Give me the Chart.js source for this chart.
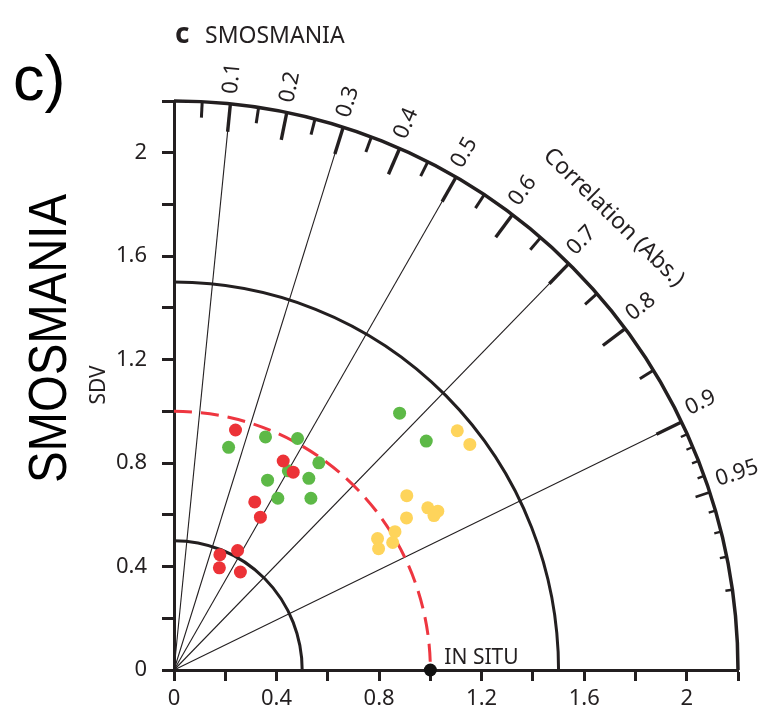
<!DOCTYPE html>
<html><head><meta charset="utf-8">
<script src="https://cdn.jsdelivr.net/npm/chart.js@4"></script>
<style>html,body{margin:0;padding:0;background:#fff;} #wrap{position:relative;width:768px;height:713px;}</style>
</head><body><div id="wrap"><canvas id="c" width="768" height="713"></canvas></div>
<script>
// ---- data ----
const xTickLabels = ['0', '0.4', '0.8', '1.2', '1.6', '2'];
const yTickLabels = ['0', '0.4', '0.8', '1.2', '1.6', '2'];
const corrLines = [0.1, 0.3, 0.5, 0.7, 0.9];
const corrMajor = [0.1, 0.2, 0.3, 0.4, 0.5, 0.6, 0.7, 0.8, 0.9];
const corrMinor = [0.05, 0.15, 0.25, 0.35, 0.45, 0.55, 0.65, 0.75, 0.85];
const corrMid = [0.95];
const corrFine = [0.91, 0.92, 0.93, 0.94, 0.96, 0.97, 0.98, 0.99];
const corrLabelValues = [0.1, 0.2, 0.3, 0.4, 0.5, 0.6, 0.7, 0.8, 0.9, 0.95];
const corrLabels = ['0.1', '0.2', '0.3', '0.4', '0.5', '0.6', '0.7', '0.8', '0.9', '0.95'];
const sdArcs = [0.5, 1.5];
const sdOuter = 2.2;
const sdRef = 1.0;
const redX = [0.240, 0.426, 0.465, 0.315, 0.337, 0.248, 0.179, 0.177, 0.259];
const redY = [0.928, 0.808, 0.765, 0.650, 0.591, 0.462, 0.446, 0.395, 0.379];
const greenX = [0.213, 0.357, 0.482, 0.565, 0.446, 0.365, 0.526, 0.405, 0.534, 0.880, 0.984];
const greenY = [0.861, 0.901, 0.895, 0.801, 0.770, 0.734, 0.741, 0.664, 0.664, 0.993, 0.885];
const yellowX = [1.105, 1.154, 0.908, 0.990, 1.029, 1.014, 0.907, 0.862, 0.853, 0.794, 0.798];
const yellowY = [0.925, 0.872, 0.674, 0.627, 0.614, 0.597, 0.588, 0.535, 0.493, 0.508, 0.469];
const inSituX = [1.0];
const inSituY = [0.0];

// ---- style ----
const TXT = '#231f20';
const FONT = '"Noto Sans", "DejaVu Sans", sans-serif';
const toPts = (xs, ys) => xs.map((v, i) => ({x: v, y: ys[i]}));

const taylorPlugin = {
  id: 'taylor',
  beforeDatasetsDraw(chart) {
    const {ctx, scales: {x, y}} = chart;
    const X = v => x.getPixelForValue(v), Y = v => y.getPixelForValue(v);
    const x0 = X(0), y0 = Y(0), kx = X(1) - x0, ky = y0 - Y(1);
    const pt = (r, th) => [X(r * Math.cos(th)), Y(r * Math.sin(th))];
    ctx.save();
    ctx.lineCap = 'butt';
    // radial correlation lines
    ctx.strokeStyle = TXT; ctx.lineWidth = 1.1;
    corrLines.forEach(c => {
      const p = pt(sdOuter, Math.acos(c));
      ctx.beginPath(); ctx.moveTo(x0, y0); ctx.lineTo(p[0], p[1]); ctx.stroke();
    });
    // SD arcs
    ctx.lineWidth = 3;
    sdArcs.forEach(r => {
      ctx.beginPath(); ctx.ellipse(x0, y0, r * kx, r * ky, 0, -Math.PI / 2, 0); ctx.stroke();
    });
    ctx.lineWidth = 3.5;
    ctx.beginPath(); ctx.ellipse(x0, y0, sdOuter * kx, sdOuter * ky, 0, -Math.PI / 2, 0); ctx.stroke();
    // reference SD arc (dashed red)
    ctx.save();
    ctx.strokeStyle = '#ee3640'; ctx.lineWidth = 3; ctx.setLineDash([18, 9]);
    ctx.beginPath(); ctx.ellipse(x0, y0, sdRef * kx, sdRef * ky, 0, -Math.PI / 2, 0); ctx.stroke();
    ctx.restore();
    // ticks on outer arc
    ctx.strokeStyle = TXT;
    const tick = (c, len, w) => {
      const [px, py] = pt(sdOuter, Math.acos(c));
      const dx = px - x0, dy = py - y0, d = Math.hypot(dx, dy);
      ctx.lineWidth = w;
      ctx.beginPath(); ctx.moveTo(px, py); ctx.lineTo(px - dx / d * len, py - dy / d * len); ctx.stroke();
    };
    corrMajor.forEach(c => tick(c, 28, 3.4));
    corrMinor.forEach(c => tick(c, 16, 3));
    corrMid.forEach(c => tick(c, 15, 2.6));
    corrFine.forEach(c => tick(c, 7, 2.4));
    // correlation labels
    ctx.fillStyle = TXT; ctx.font = '22px ' + FONT;
    ctx.textAlign = 'left'; ctx.textBaseline = 'middle';
    corrLabelValues.forEach((c, i) => {
      const [px, py] = pt(sdOuter, Math.acos(c));
      const dx = px - x0, dy = py - y0, d = Math.hypot(dx, dy);
      const ux = dx / d, uy = dy / d, off = 10 * c;
      const lx = px + ux * 10 + uy * off, ly = py + uy * 10 - ux * off;
      ctx.save(); ctx.translate(lx, ly); ctx.rotate(Math.atan2(uy, ux));
      ctx.fillText(corrLabels[i], 0, 0); ctx.restore();
    });
    // axis title along arc
    {
      const th = Math.acos(0.70);
      const [px, py] = pt(2.45, th);
      ctx.save(); ctx.translate(px, py); ctx.rotate(Math.PI / 2 - th);
      ctx.font = '23px ' + FONT; ctx.textAlign = 'center'; ctx.textBaseline = 'middle';
      ctx.fillText('Correlation (Abs.)', 0, 0); ctx.restore();
    }
    // SDV title
    ctx.save(); ctx.translate(99, 385); ctx.rotate(-Math.PI / 2);
    ctx.font = '21px ' + FONT; ctx.textAlign = 'center'; ctx.textBaseline = 'middle';
    ctx.fillText('SDV', 0, 0); ctx.restore();
    // IN SITU label
    ctx.font = '21px ' + FONT; ctx.textAlign = 'left'; ctx.textBaseline = 'alphabetic';
    ctx.fillText('IN SITU', X(1) + 14, Y(0) - 6);
    // header
    ctx.font = 'bold 28px ' + FONT;
    ctx.fillText('c', 175, 43);
    ctx.font = '23px ' + FONT;
    ctx.fillText('SMOSMANIA', 205, 43);
    // panel letter
    ctx.fillStyle = '#000';
    ctx.font = '63px "Liberation Sans", Arial, sans-serif';
    ctx.fillText('c)', 13, 100);
    // big vertical label
    ctx.save(); ctx.translate(66, 483); ctx.rotate(-Math.PI / 2);
    ctx.font = '53px "Liberation Sans", Arial, sans-serif';
    const w = ctx.measureText('SMOSMANIA').width;
    ctx.scale(289 / w, 1);
    ctx.fillText('SMOSMANIA', 0, 0); ctx.restore();
    ctx.restore();
  }
};

new Chart(document.getElementById('c'), {
  type: 'scatter',
  data: {
    datasets: [
      {label: 'In situ', data: toPts(inSituX, inSituY), backgroundColor: '#111', pointRadius: 6.5, borderWidth: 0, clip: false},
      {label: 'Red', data: toPts(redX, redY), backgroundColor: '#ec3237', pointRadius: 6.5, borderWidth: 0, clip: false},
      {label: 'Green', data: toPts(greenX, greenY), backgroundColor: '#5db947', pointRadius: 6.5, borderWidth: 0, clip: false},
      {label: 'Yellow', data: toPts(yellowX, yellowY), backgroundColor: '#fed45b', pointRadius: 6.5, borderWidth: 0, clip: false}
    ]
  },
  options: {
    responsive: false, devicePixelRatio: 1, animation: false,
    layout: {padding: {left: 0, top: 101, right: 30, bottom: 0}},
    plugins: {legend: {display: false}, tooltip: {enabled: false}},
    scales: {
      x: {
        type: 'linear', min: 0, max: 2.2,
        afterFit: s => { s.height = 43; },
        ticks: {stepSize: 0.2, autoSkip: false, maxRotation: 0, padding: 5, color: TXT,
          font: {family: FONT, size: 22},
          callback: (v, i) => (i % 2 === 0 && i / 2 < xTickLabels.length) ? xTickLabels[i / 2] : ''},
        grid: {drawOnChartArea: false, drawTicks: true, tickLength: 11, tickWidth: 3, tickColor: TXT},
        border: {display: true, color: TXT, width: 3}
      },
      y: {
        type: 'linear', min: 0, max: 2.2,
        afterFit: s => { s.width = 174; },
        ticks: {stepSize: 0.2, autoSkip: false, padding: 15, color: TXT,
          font: {family: FONT, size: 22},
          callback: (v, i) => (i % 2 === 0 && i / 2 < yTickLabels.length) ? yTickLabels[i / 2] : ''},
        grid: {drawOnChartArea: false, drawTicks: true, tickLength: 12, tickWidth: 3, tickColor: TXT},
        border: {display: true, color: TXT, width: 3}
      }
    }
  },
  plugins: [taylorPlugin]
});
</script></body></html>
